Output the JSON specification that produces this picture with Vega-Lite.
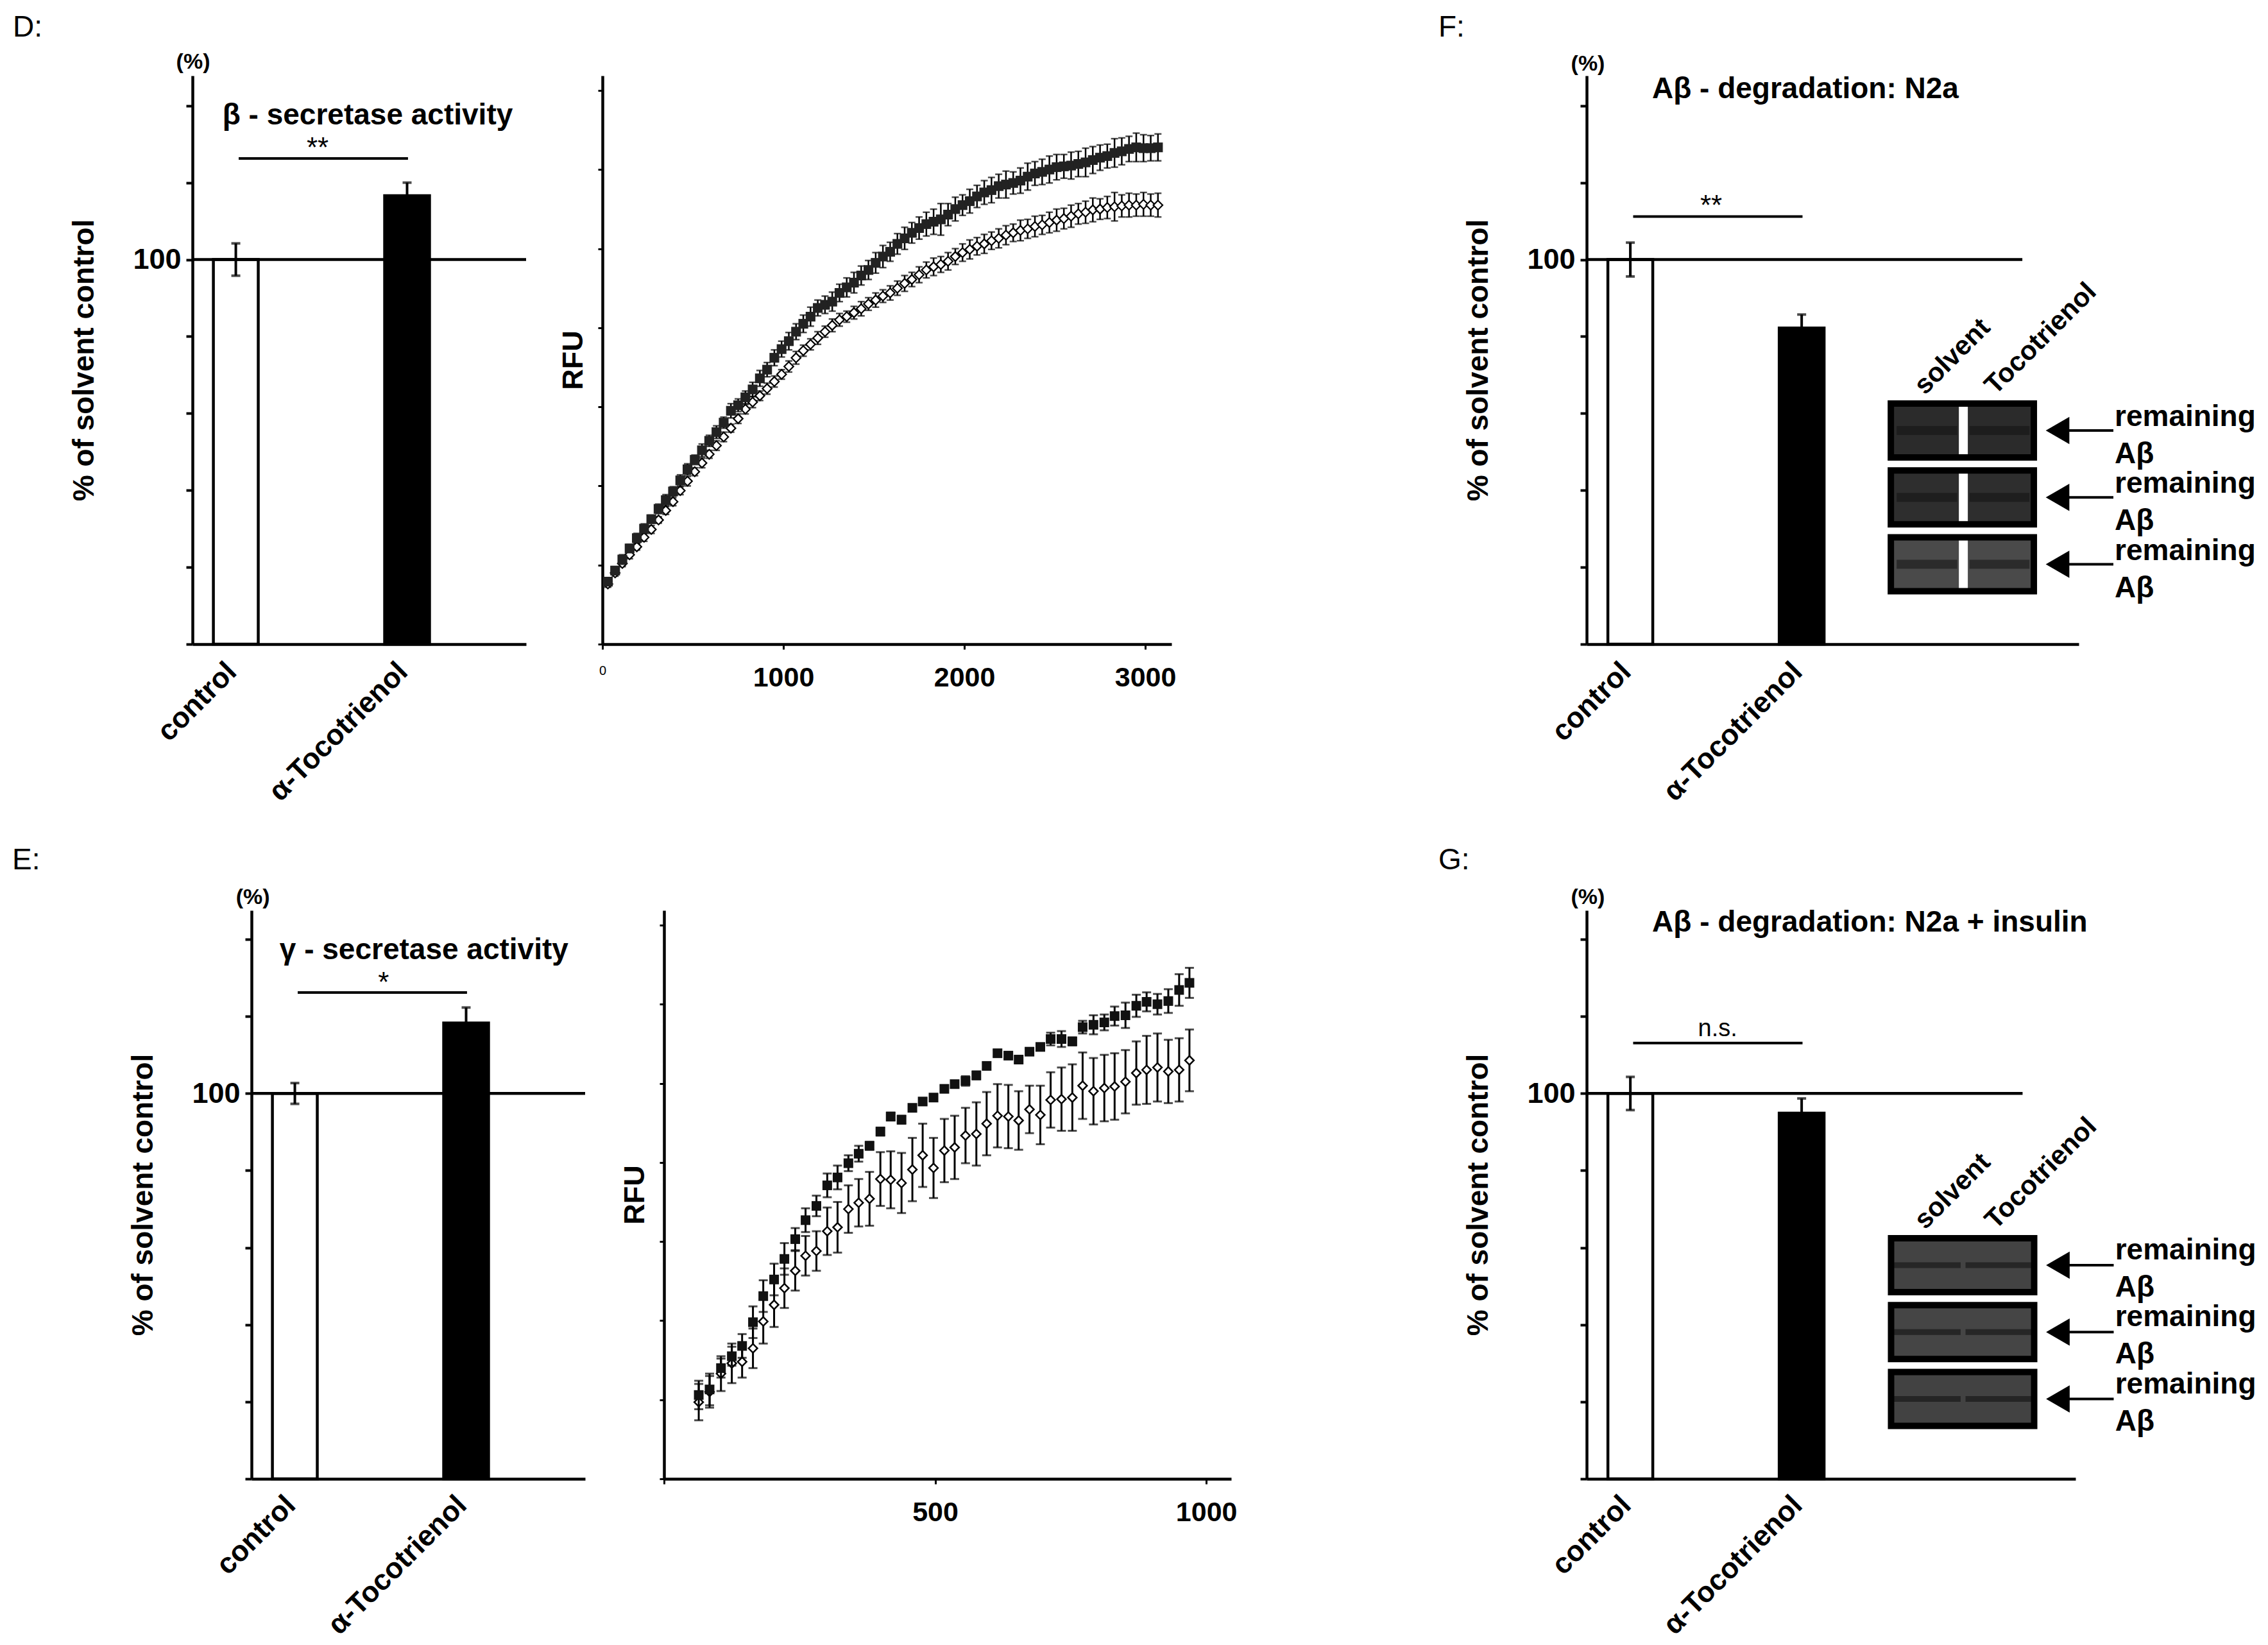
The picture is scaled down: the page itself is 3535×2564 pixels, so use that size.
{
  "$schema": "https://vega.github.io/schema/vega-lite/v6.json",
  "padding": 0,
  "background": "white",
  "config": {
    "font": "Liberation Sans",
    "view": {"stroke": null},
    "axis": {"domainColor": "black", "tickColor": "black", "labelColor": "black", "titleColor": "black", "grid": false, "labelLimit": 0, "titleLimit": 0, "labelFont": "Liberation Sans", "titleFont": "Liberation Sans"},
    "text": {"color": "black", "font": "Liberation Sans"},
    "title": {"color": "black", "font": "Liberation Sans"}
  },
  "datasets": {
    "one": [{}],
    "barsD": [{"group": "control", "value": 100, "err": 4.2}, {"group": "α-Tocotrienol", "value": 116.6, "err": 3.4}],
    "barsE": [{"group": "control", "value": 100, "err": 2.7}, {"group": "α-Tocotrienol", "value": 118.3, "err": 4.0}],
    "barsF": [{"group": "control", "value": 100, "err": 4.4}, {"group": "α-Tocotrienol", "value": 82.2, "err": 3.5}],
    "barsG": [{"group": "control", "value": 100, "err": 4.3}, {"group": "α-Tocotrienol", "value": 94.9, "err": 3.8}],
    "blot": [
      {"rep": 1, "lane": "solvent"}, {"rep": 1, "lane": "Tocotrienol"},
      {"rep": 2, "lane": "solvent"}, {"rep": 2, "lane": "Tocotrienol"},
      {"rep": 3, "lane": "solvent"}, {"rep": 3, "lane": "Tocotrienol"}
    ],
    "kinD": [
      {"t": 30, "s": "toco", "v": 0.79, "e": 0.05}, {"t": 70, "s": "toco", "v": 0.93, "e": 0.05}, {"t": 110, "s": "toco", "v": 1.07, "e": 0.06}, {"t": 150, "s": "toco", "v": 1.21, "e": 0.05},
      {"t": 190, "s": "toco", "v": 1.34, "e": 0.06}, {"t": 230, "s": "toco", "v": 1.46, "e": 0.06}, {"t": 270, "s": "toco", "v": 1.58, "e": 0.05}, {"t": 310, "s": "toco", "v": 1.71, "e": 0.06},
      {"t": 350, "s": "toco", "v": 1.82, "e": 0.07}, {"t": 390, "s": "toco", "v": 1.93, "e": 0.06}, {"t": 430, "s": "toco", "v": 2.07, "e": 0.07}, {"t": 470, "s": "toco", "v": 2.21, "e": 0.07},
      {"t": 510, "s": "toco", "v": 2.33, "e": 0.06}, {"t": 550, "s": "toco", "v": 2.45, "e": 0.08}, {"t": 590, "s": "toco", "v": 2.57, "e": 0.07}, {"t": 630, "s": "toco", "v": 2.68, "e": 0.08},
      {"t": 670, "s": "toco", "v": 2.80, "e": 0.07}, {"t": 710, "s": "toco", "v": 2.95, "e": 0.09}, {"t": 750, "s": "toco", "v": 3.02, "e": 0.08}, {"t": 790, "s": "toco", "v": 3.12, "e": 0.08},
      {"t": 830, "s": "toco", "v": 3.22, "e": 0.09}, {"t": 870, "s": "toco", "v": 3.36, "e": 0.10}, {"t": 910, "s": "toco", "v": 3.47, "e": 0.09}, {"t": 950, "s": "toco", "v": 3.62, "e": 0.10},
      {"t": 990, "s": "toco", "v": 3.73, "e": 0.10}, {"t": 1030, "s": "toco", "v": 3.83, "e": 0.11}, {"t": 1070, "s": "toco", "v": 3.95, "e": 0.10}, {"t": 1110, "s": "toco", "v": 4.05, "e": 0.11},
      {"t": 1150, "s": "toco", "v": 4.14, "e": 0.12}, {"t": 1190, "s": "toco", "v": 4.25, "e": 0.10}, {"t": 1230, "s": "toco", "v": 4.29, "e": 0.11}, {"t": 1270, "s": "toco", "v": 4.33, "e": 0.12},
      {"t": 1310, "s": "toco", "v": 4.44, "e": 0.11}, {"t": 1350, "s": "toco", "v": 4.51, "e": 0.12}, {"t": 1390, "s": "toco", "v": 4.57, "e": 0.13}, {"t": 1430, "s": "toco", "v": 4.66, "e": 0.12},
      {"t": 1470, "s": "toco", "v": 4.73, "e": 0.12}, {"t": 1510, "s": "toco", "v": 4.82, "e": 0.13}, {"t": 1550, "s": "toco", "v": 4.90, "e": 0.14}, {"t": 1590, "s": "toco", "v": 4.96, "e": 0.12},
      {"t": 1630, "s": "toco", "v": 5.06, "e": 0.13}, {"t": 1670, "s": "toco", "v": 5.13, "e": 0.14}, {"t": 1710, "s": "toco", "v": 5.20, "e": 0.13}, {"t": 1750, "s": "toco", "v": 5.26, "e": 0.14},
      {"t": 1790, "s": "toco", "v": 5.31, "e": 0.15}, {"t": 1830, "s": "toco", "v": 5.34, "e": 0.16}, {"t": 1870, "s": "toco", "v": 5.37, "e": 0.20}, {"t": 1910, "s": "toco", "v": 5.43, "e": 0.14},
      {"t": 1950, "s": "toco", "v": 5.50, "e": 0.15}, {"t": 1990, "s": "toco", "v": 5.55, "e": 0.13}, {"t": 2030, "s": "toco", "v": 5.60, "e": 0.15}, {"t": 2070, "s": "toco", "v": 5.66, "e": 0.14},
      {"t": 2110, "s": "toco", "v": 5.71, "e": 0.15}, {"t": 2150, "s": "toco", "v": 5.74, "e": 0.16}, {"t": 2190, "s": "toco", "v": 5.79, "e": 0.15}, {"t": 2230, "s": "toco", "v": 5.81, "e": 0.17},
      {"t": 2270, "s": "toco", "v": 5.83, "e": 0.14}, {"t": 2310, "s": "toco", "v": 5.86, "e": 0.16}, {"t": 2350, "s": "toco", "v": 5.91, "e": 0.17}, {"t": 2390, "s": "toco", "v": 5.95, "e": 0.15},
      {"t": 2430, "s": "toco", "v": 5.97, "e": 0.16}, {"t": 2470, "s": "toco", "v": 6.00, "e": 0.17}, {"t": 2510, "s": "toco", "v": 6.03, "e": 0.16}, {"t": 2550, "s": "toco", "v": 6.04, "e": 0.15},
      {"t": 2590, "s": "toco", "v": 6.05, "e": 0.17}, {"t": 2630, "s": "toco", "v": 6.07, "e": 0.16}, {"t": 2670, "s": "toco", "v": 6.09, "e": 0.18}, {"t": 2710, "s": "toco", "v": 6.12, "e": 0.17},
      {"t": 2750, "s": "toco", "v": 6.15, "e": 0.16}, {"t": 2790, "s": "toco", "v": 6.17, "e": 0.15}, {"t": 2830, "s": "toco", "v": 6.21, "e": 0.18}, {"t": 2870, "s": "toco", "v": 6.23, "e": 0.17},
      {"t": 2910, "s": "toco", "v": 6.26, "e": 0.16}, {"t": 2950, "s": "toco", "v": 6.28, "e": 0.18}, {"t": 2990, "s": "toco", "v": 6.27, "e": 0.17}, {"t": 3030, "s": "toco", "v": 6.27, "e": 0.16},
      {"t": 3070, "s": "toco", "v": 6.28, "e": 0.17},
      {"t": 30, "s": "control", "v": 0.76, "e": 0.04}, {"t": 70, "s": "control", "v": 0.90, "e": 0.04}, {"t": 110, "s": "control", "v": 1.02, "e": 0.04}, {"t": 150, "s": "control", "v": 1.13, "e": 0.05},
      {"t": 190, "s": "control", "v": 1.23, "e": 0.04}, {"t": 230, "s": "control", "v": 1.35, "e": 0.05}, {"t": 270, "s": "control", "v": 1.45, "e": 0.05}, {"t": 310, "s": "control", "v": 1.57, "e": 0.04},
      {"t": 350, "s": "control", "v": 1.69, "e": 0.05}, {"t": 390, "s": "control", "v": 1.80, "e": 0.05}, {"t": 430, "s": "control", "v": 1.94, "e": 0.05}, {"t": 470, "s": "control", "v": 2.06, "e": 0.06},
      {"t": 510, "s": "control", "v": 2.18, "e": 0.05}, {"t": 550, "s": "control", "v": 2.29, "e": 0.06}, {"t": 590, "s": "control", "v": 2.40, "e": 0.05}, {"t": 630, "s": "control", "v": 2.51, "e": 0.06},
      {"t": 670, "s": "control", "v": 2.62, "e": 0.06}, {"t": 710, "s": "control", "v": 2.73, "e": 0.05}, {"t": 750, "s": "control", "v": 2.85, "e": 0.06}, {"t": 790, "s": "control", "v": 2.97, "e": 0.06},
      {"t": 830, "s": "control", "v": 3.06, "e": 0.07}, {"t": 870, "s": "control", "v": 3.14, "e": 0.06}, {"t": 910, "s": "control", "v": 3.23, "e": 0.07}, {"t": 950, "s": "control", "v": 3.32, "e": 0.07},
      {"t": 990, "s": "control", "v": 3.41, "e": 0.06}, {"t": 1030, "s": "control", "v": 3.51, "e": 0.07}, {"t": 1070, "s": "control", "v": 3.62, "e": 0.08}, {"t": 1110, "s": "control", "v": 3.71, "e": 0.07},
      {"t": 1150, "s": "control", "v": 3.79, "e": 0.07}, {"t": 1190, "s": "control", "v": 3.87, "e": 0.08}, {"t": 1230, "s": "control", "v": 3.95, "e": 0.07}, {"t": 1270, "s": "control", "v": 4.03, "e": 0.08},
      {"t": 1310, "s": "control", "v": 4.10, "e": 0.08}, {"t": 1350, "s": "control", "v": 4.14, "e": 0.07}, {"t": 1390, "s": "control", "v": 4.19, "e": 0.08}, {"t": 1430, "s": "control", "v": 4.24, "e": 0.09},
      {"t": 1470, "s": "control", "v": 4.30, "e": 0.08}, {"t": 1510, "s": "control", "v": 4.35, "e": 0.09}, {"t": 1550, "s": "control", "v": 4.40, "e": 0.08}, {"t": 1590, "s": "control", "v": 4.44, "e": 0.09},
      {"t": 1630, "s": "control", "v": 4.50, "e": 0.09}, {"t": 1670, "s": "control", "v": 4.56, "e": 0.10}, {"t": 1710, "s": "control", "v": 4.61, "e": 0.09}, {"t": 1750, "s": "control", "v": 4.67, "e": 0.10},
      {"t": 1790, "s": "control", "v": 4.73, "e": 0.10}, {"t": 1830, "s": "control", "v": 4.77, "e": 0.11}, {"t": 1870, "s": "control", "v": 4.80, "e": 0.10}, {"t": 1910, "s": "control", "v": 4.84, "e": 0.11},
      {"t": 1950, "s": "control", "v": 4.90, "e": 0.10}, {"t": 1990, "s": "control", "v": 4.95, "e": 0.11}, {"t": 2030, "s": "control", "v": 4.99, "e": 0.12}, {"t": 2070, "s": "control", "v": 5.03, "e": 0.11},
      {"t": 2110, "s": "control", "v": 5.06, "e": 0.12}, {"t": 2150, "s": "control", "v": 5.10, "e": 0.11}, {"t": 2190, "s": "control", "v": 5.13, "e": 0.12}, {"t": 2230, "s": "control", "v": 5.17, "e": 0.12},
      {"t": 2270, "s": "control", "v": 5.20, "e": 0.11}, {"t": 2310, "s": "control", "v": 5.23, "e": 0.13}, {"t": 2350, "s": "control", "v": 5.25, "e": 0.12}, {"t": 2390, "s": "control", "v": 5.28, "e": 0.13},
      {"t": 2430, "s": "control", "v": 5.30, "e": 0.12}, {"t": 2470, "s": "control", "v": 5.33, "e": 0.13}, {"t": 2510, "s": "control", "v": 5.36, "e": 0.14}, {"t": 2550, "s": "control", "v": 5.38, "e": 0.13},
      {"t": 2590, "s": "control", "v": 5.41, "e": 0.14}, {"t": 2630, "s": "control", "v": 5.44, "e": 0.13}, {"t": 2670, "s": "control", "v": 5.46, "e": 0.14}, {"t": 2710, "s": "control", "v": 5.49, "e": 0.15},
      {"t": 2750, "s": "control", "v": 5.50, "e": 0.13}, {"t": 2790, "s": "control", "v": 5.52, "e": 0.14}, {"t": 2830, "s": "control", "v": 5.53, "e": 0.18}, {"t": 2870, "s": "control", "v": 5.54, "e": 0.14},
      {"t": 2910, "s": "control", "v": 5.55, "e": 0.15}, {"t": 2950, "s": "control", "v": 5.55, "e": 0.14}, {"t": 2990, "s": "control", "v": 5.56, "e": 0.15}, {"t": 3030, "s": "control", "v": 5.55, "e": 0.14},
      {"t": 3070, "s": "control", "v": 5.55, "e": 0.15}
    ],
    "kinE": [
      {"t": 64, "s": "toco", "v": 1.06, "e": 0.18}, {"t": 84, "s": "toco", "v": 1.13, "e": 0.20}, {"t": 105, "s": "toco", "v": 1.40, "e": 0.12}, {"t": 125, "s": "toco", "v": 1.55, "e": 0.12},
      {"t": 144, "s": "toco", "v": 1.68, "e": 0.15}, {"t": 164, "s": "toco", "v": 1.98, "e": 0.20}, {"t": 183, "s": "toco", "v": 2.31, "e": 0.20}, {"t": 203, "s": "toco", "v": 2.52, "e": 0.20},
      {"t": 222, "s": "toco", "v": 2.78, "e": 0.20}, {"t": 242, "s": "toco", "v": 3.03, "e": 0.14}, {"t": 261, "s": "toco", "v": 3.27, "e": 0.15}, {"t": 281, "s": "toco", "v": 3.45, "e": 0.13},
      {"t": 301, "s": "toco", "v": 3.71, "e": 0.15}, {"t": 320, "s": "toco", "v": 3.81, "e": 0.15}, {"t": 340, "s": "toco", "v": 3.99, "e": 0.10}, {"t": 359, "s": "toco", "v": 4.11, "e": 0.10},
      {"t": 379, "s": "toco", "v": 4.21, "e": 0.05}, {"t": 399, "s": "toco", "v": 4.39, "e": 0.05}, {"t": 418, "s": "toco", "v": 4.58, "e": 0.05}, {"t": 438, "s": "toco", "v": 4.54, "e": 0.05},
      {"t": 458, "s": "toco", "v": 4.69, "e": 0.04}, {"t": 477, "s": "toco", "v": 4.77, "e": 0.04}, {"t": 497, "s": "toco", "v": 4.82, "e": 0.04}, {"t": 517, "s": "toco", "v": 4.93, "e": 0.04},
      {"t": 536, "s": "toco", "v": 4.99, "e": 0.04}, {"t": 556, "s": "toco", "v": 5.03, "e": 0.06}, {"t": 576, "s": "toco", "v": 5.10, "e": 0.05}, {"t": 595, "s": "toco", "v": 5.22, "e": 0.04},
      {"t": 615, "s": "toco", "v": 5.38, "e": 0.04}, {"t": 635, "s": "toco", "v": 5.35, "e": 0.04}, {"t": 654, "s": "toco", "v": 5.30, "e": 0.04}, {"t": 674, "s": "toco", "v": 5.40, "e": 0.04},
      {"t": 694, "s": "toco", "v": 5.46, "e": 0.04}, {"t": 713, "s": "toco", "v": 5.56, "e": 0.08}, {"t": 733, "s": "toco", "v": 5.56, "e": 0.10}, {"t": 753, "s": "toco", "v": 5.53, "e": 0.05},
      {"t": 772, "s": "toco", "v": 5.71, "e": 0.08}, {"t": 792, "s": "toco", "v": 5.74, "e": 0.12}, {"t": 812, "s": "toco", "v": 5.77, "e": 0.10}, {"t": 831, "s": "toco", "v": 5.85, "e": 0.12},
      {"t": 851, "s": "toco", "v": 5.86, "e": 0.16}, {"t": 871, "s": "toco", "v": 5.98, "e": 0.14}, {"t": 890, "s": "toco", "v": 6.03, "e": 0.12}, {"t": 910, "s": "toco", "v": 6.00, "e": 0.13},
      {"t": 930, "s": "toco", "v": 6.04, "e": 0.15}, {"t": 950, "s": "toco", "v": 6.18, "e": 0.20}, {"t": 969, "s": "toco", "v": 6.27, "e": 0.19},
      {"t": 64, "s": "control", "v": 0.97, "e": 0.23}, {"t": 84, "s": "control", "v": 1.10, "e": 0.20}, {"t": 105, "s": "control", "v": 1.33, "e": 0.22}, {"t": 125, "s": "control", "v": 1.46, "e": 0.25},
      {"t": 144, "s": "control", "v": 1.48, "e": 0.20}, {"t": 164, "s": "control", "v": 1.65, "e": 0.25}, {"t": 183, "s": "control", "v": 1.99, "e": 0.28}, {"t": 203, "s": "control", "v": 2.20, "e": 0.28},
      {"t": 222, "s": "control", "v": 2.41, "e": 0.25}, {"t": 242, "s": "control", "v": 2.63, "e": 0.25}, {"t": 261, "s": "control", "v": 2.82, "e": 0.25}, {"t": 281, "s": "control", "v": 2.88, "e": 0.25},
      {"t": 301, "s": "control", "v": 3.13, "e": 0.30}, {"t": 320, "s": "control", "v": 3.18, "e": 0.32}, {"t": 340, "s": "control", "v": 3.41, "e": 0.30}, {"t": 359, "s": "control", "v": 3.49, "e": 0.30},
      {"t": 379, "s": "control", "v": 3.54, "e": 0.34}, {"t": 399, "s": "control", "v": 3.79, "e": 0.34}, {"t": 418, "s": "control", "v": 3.78, "e": 0.36}, {"t": 438, "s": "control", "v": 3.74, "e": 0.38},
      {"t": 458, "s": "control", "v": 3.91, "e": 0.40}, {"t": 477, "s": "control", "v": 4.09, "e": 0.40}, {"t": 497, "s": "control", "v": 3.93, "e": 0.38}, {"t": 517, "s": "control", "v": 4.15, "e": 0.40},
      {"t": 536, "s": "control", "v": 4.19, "e": 0.40}, {"t": 556, "s": "control", "v": 4.34, "e": 0.35}, {"t": 576, "s": "control", "v": 4.36, "e": 0.40}, {"t": 595, "s": "control", "v": 4.49, "e": 0.40},
      {"t": 615, "s": "control", "v": 4.59, "e": 0.40}, {"t": 635, "s": "control", "v": 4.58, "e": 0.40}, {"t": 654, "s": "control", "v": 4.53, "e": 0.37}, {"t": 674, "s": "control", "v": 4.67, "e": 0.30},
      {"t": 694, "s": "control", "v": 4.60, "e": 0.37}, {"t": 713, "s": "control", "v": 4.79, "e": 0.35}, {"t": 733, "s": "control", "v": 4.80, "e": 0.40}, {"t": 753, "s": "control", "v": 4.82, "e": 0.42},
      {"t": 772, "s": "control", "v": 4.97, "e": 0.42}, {"t": 792, "s": "control", "v": 4.90, "e": 0.42}, {"t": 812, "s": "control", "v": 4.94, "e": 0.42}, {"t": 831, "s": "control", "v": 4.96, "e": 0.42},
      {"t": 851, "s": "control", "v": 5.02, "e": 0.40}, {"t": 871, "s": "control", "v": 5.13, "e": 0.40}, {"t": 890, "s": "control", "v": 5.17, "e": 0.43}, {"t": 910, "s": "control", "v": 5.20, "e": 0.43},
      {"t": 930, "s": "control", "v": 5.15, "e": 0.40}, {"t": 950, "s": "control", "v": 5.17, "e": 0.40}, {"t": 969, "s": "control", "v": 5.29, "e": 0.39}
    ]
  },
  "spacing": 0,
  "vconcat": [
    {
      "spacing": 0,
      "bounds": "flush",
      "hconcat": [
        {"width": 300, "height": 886, "data": {"values": []}, "mark": "point"},
        {
          "width": 520, "height": 886,
          "layer": [
            {
              "data": {"name": "barsD"},
              "encoding": {
                "x": {"field": "group", "type": "nominal", "sort": null,
                  "scale": {"domain": ["control", "α-Tocotrienol"], "paddingInner": 0.738, "paddingOuter": 0.343, "align": 0.178},
                  "axis": {"title": null, "domainWidth": 4.5, "ticks": false, "labelAngle": -45, "labelFontSize": 45, "labelFontWeight": "bold", "labelPadding": 20, "labelOffset": -22}},
                "y": {"field": "value", "type": "quantitative", "scale": {"domain": [0, 147.8], "nice": false},
                  "axis": {"title": "% of solvent control", "titleFontSize": 46, "titleFontWeight": "bold", "titlePadding": 51, "values": [0, 20, 40, 60, 80, 100, 120, 140], "labelExpr": "datum.value == 100 ? '100' : ''", "labelFontSize": 45, "labelFontWeight": "bold", "labelPadding": 8, "tickSize": 10, "tickWidth": 4, "domainWidth": 4.5}}
              },
              "layer": [
                {"mark": {"type": "bar", "stroke": "black", "strokeWidth": 4.5},
                 "encoding": {"color": {"field": "group", "type": "nominal", "scale": {"domain": ["control", "α-Tocotrienol"], "range": ["white", "black"]}, "legend": null}}},
                {"mark": {"type": "errorbar", "ticks": true, "size": 14, "thickness": 4, "color": "black"},
                 "encoding": {"yError": {"field": "err"}}}
              ]
            },
            {
              "data": {"name": "one"},
              "layer": [
                {"mark": {"type": "rule", "color": "white", "opacity": 0, "strokeWidth": 1},
                 "encoding": {"x": {"datum": 0, "type": "quantitative", "scale": {"domain": [0, 100], "nice": false}, "axis": null}, "x2": {"datum": 1},
                   "y": {"datum": 167.32, "type": "quantitative", "scale": {"domain": [0, 147.8], "nice": false}, "axis": null}}},
                {"mark": {"type": "rule", "color": "white", "opacity": 0, "strokeWidth": 1},
                 "encoding": {"x": {"datum": 0, "type": "quantitative", "scale": {"domain": [0, 100], "nice": false}, "axis": null}, "x2": {"datum": 1},
                   "y": {"datum": -49.53, "type": "quantitative", "scale": {"domain": [0, 147.8], "nice": false}, "axis": null}}},
                {"mark": {"type": "rule", "color": "black", "strokeWidth": 4.5},
                 "encoding": {"x": {"datum": 0, "type": "quantitative", "scale": {"domain": [0, 100], "nice": false}, "axis": null}, "x2": {"datum": 100},
                   "y": {"datum": 100, "type": "quantitative", "scale": {"domain": [0, 147.8], "nice": false}, "axis": null}}},
                {"mark": {"type": "rule", "color": "black", "strokeWidth": 4},
                 "encoding": {"x": {"datum": 13.85, "type": "quantitative", "scale": {"domain": [0, 100], "nice": false}, "axis": null}, "x2": {"datum": 64.6},
                   "y": {"datum": 126.3, "type": "quantitative", "scale": {"domain": [0, 147.8], "nice": false}, "axis": null}}},
                {"mark": {"type": "text", "text": "**", "fontSize": 44, "baseline": "alphabetic"},
                 "encoding": {"x": {"datum": 37.5, "type": "quantitative", "scale": {"domain": [0, 100], "nice": false}, "axis": null},
                   "y": {"datum": 126.6, "type": "quantitative", "scale": {"domain": [0, 147.8], "nice": false}, "axis": null}}},
                {"mark": {"type": "text", "text": "β - secretase activity", "fontSize": 46, "fontWeight": "bold", "baseline": "alphabetic"},
                 "encoding": {"x": {"datum": 52.5, "type": "quantitative", "scale": {"domain": [0, 100], "nice": false}, "axis": null},
                   "y": {"datum": 135.1, "type": "quantitative", "scale": {"domain": [0, 147.8], "nice": false}, "axis": null}}},
                {"mark": {"type": "text", "text": "(%)", "fontSize": 34, "fontWeight": "bold", "baseline": "alphabetic"},
                 "encoding": {"x": {"datum": 0.2, "type": "quantitative", "scale": {"domain": [0, 100], "nice": false}, "axis": null},
                   "y": {"datum": 149.6, "type": "quantitative", "scale": {"domain": [0, 147.8], "nice": false}, "axis": null}}},
                {"mark": {"type": "text", "text": "D:", "align": "left", "fontSize": 46, "baseline": "alphabetic"},
                 "encoding": {"x": {"datum": -53.85, "type": "quantitative", "scale": {"domain": [0, 100], "nice": false}, "axis": null},
                   "y": {"datum": 158.0, "type": "quantitative", "scale": {"domain": [0, 147.8], "nice": false}, "axis": null}}}
              ]
            }
          ],
          "resolve": {"scale": {"x": "independent", "y": "independent"}}
        },
        {"width": 119, "height": 886, "data": {"values": []}, "mark": "point"},
        {
          "width": 887, "height": 886,
          "data": {"name": "kinD"},
          "encoding": {
            "x": {"field": "t", "type": "quantitative", "scale": {"domain": [0, 3145], "nice": false, "zero": false},
              "axis": {"title": null, "values": [0, 1000, 2000, 3000], "format": "d", "domainWidth": 4.5, "tickSize": 8, "tickWidth": 3, "labelPadding": 23, "labelFlush": false, "labelOverlap": false,
                "labelFontSize": {"condition": {"test": "datum.value == 0", "value": 20}, "value": 43},
                "labelFontWeight": {"condition": {"test": "datum.value == 0", "value": "normal"}, "value": "bold"}}},
            "y": {"field": "v", "type": "quantitative", "scale": {"domain": [0, 7.186], "nice": false},
              "axis": {"title": "RFU", "titleFontSize": 45, "titleFontWeight": "bold", "titlePadding": 14, "values": [0, 1, 2, 3, 4, 5, 6, 7], "labels": false, "tickSize": 7, "tickWidth": 3, "domainWidth": 4.5}}
          },
          "layer": [
            {"transform": [{"filter": "datum.s == 'control'"}],
             "mark": {"type": "errorbar", "ticks": true, "size": 11, "thickness": 2.5, "color": "black"},
             "encoding": {"yError": {"field": "e"}}},
            {"transform": [{"filter": "datum.s == 'control'"}],
             "mark": {"type": "point", "shape": "diamond", "filled": true, "fill": "white", "stroke": "black", "strokeWidth": 2.2, "size": 210, "opacity": 1}},
            {"transform": [{"filter": "datum.s == 'toco'"}],
             "mark": {"type": "errorbar", "ticks": true, "size": 11, "thickness": 2.5, "color": "black"},
             "encoding": {"yError": {"field": "e"}}},
            {"transform": [{"filter": "datum.s == 'toco'"}],
             "mark": {"type": "point", "shape": "square", "filled": true, "color": "#222222", "size": 230, "opacity": 1}},
            {"data": {"name": "one"},
             "mark": {"type": "text", "text": "α-Toco-", "align": "left", "baseline": "middle", "fontSize": 45, "fontWeight": "bold"},
             "encoding": {"x": {"datum": 3200, "type": "quantitative", "scale": {"domain": [0, 3145], "nice": false, "zero": false}},
               "y": {"datum": 6.61, "type": "quantitative", "scale": {"domain": [0, 7.186], "nice": false}}}},
            {"data": {"name": "one"},
             "mark": {"type": "text", "text": "trienol", "align": "left", "baseline": "middle", "fontSize": 45, "fontWeight": "bold"},
             "encoding": {"x": {"datum": 3200, "type": "quantitative", "scale": {"domain": [0, 3145], "nice": false, "zero": false}},
               "y": {"datum": 6.2, "type": "quantitative", "scale": {"domain": [0, 7.186], "nice": false}}}},
            {"data": {"name": "one"},
             "mark": {"type": "text", "text": "control", "align": "left", "baseline": "middle", "fontSize": 45, "fontWeight": "bold"},
             "encoding": {"x": {"datum": 3200, "type": "quantitative", "scale": {"domain": [0, 3145], "nice": false, "zero": false}},
               "y": {"datum": 5.47, "type": "quantitative", "scale": {"domain": [0, 7.186], "nice": false}}}},
            {"data": {"name": "one"},
             "mark": {"type": "text", "text": "[sec]", "align": "left", "baseline": "middle", "fontSize": 45, "fontWeight": "bold"},
             "encoding": {"x": {"datum": 3277, "type": "quantitative", "scale": {"domain": [0, 3145], "nice": false, "zero": false}},
               "y": {"datum": -0.065, "type": "quantitative", "scale": {"domain": [0, 7.186], "nice": false}}}}
          ]
        },
        {"width": 647, "height": 886, "data": {"values": []}, "mark": "point"},
        {
          "width": 767, "height": 886,
          "layer": [
            {
              "data": {"name": "barsF"},
              "encoding": {
                "x": {"field": "group", "type": "nominal", "sort": null,
                  "scale": {"domain": ["control", "α-Tocotrienol"], "paddingInner": 0.738, "paddingOuter": 0.805, "align": 0.077},
                  "axis": {"title": null, "domainWidth": 4.5, "ticks": false, "labelAngle": -45, "labelFontSize": 45, "labelFontWeight": "bold", "labelPadding": 20, "labelOffset": -22}},
                "y": {"field": "value", "type": "quantitative", "scale": {"domain": [0, 147.8], "nice": false},
                  "axis": {"title": "% of solvent control", "titleFontSize": 46, "titleFontWeight": "bold", "titlePadding": 51, "values": [0, 20, 40, 60, 80, 100, 120, 140], "labelExpr": "datum.value == 100 ? '100' : ''", "labelFontSize": 45, "labelFontWeight": "bold", "labelPadding": 8, "tickSize": 10, "tickWidth": 4, "domainWidth": 4.5}}
              },
              "layer": [
                {"mark": {"type": "bar", "stroke": "black", "strokeWidth": 4.5},
                 "encoding": {"color": {"field": "group", "type": "nominal", "scale": {"domain": ["control", "α-Tocotrienol"], "range": ["white", "black"]}, "legend": null}}},
                {"mark": {"type": "errorbar", "ticks": true, "size": 14, "thickness": 4, "color": "black"},
                 "encoding": {"yError": {"field": "err"}}}
              ]
            },
            {
              "data": {"name": "one"},
              "layer": [
                {"mark": {"type": "rule", "color": "black", "strokeWidth": 4.5},
                 "encoding": {"x": {"datum": 0, "type": "quantitative", "scale": {"domain": [0, 100], "nice": false}, "axis": null}, "x2": {"datum": 88.54},
                   "y": {"datum": 100, "type": "quantitative", "scale": {"domain": [0, 147.8], "nice": false}, "axis": null}}},
                {"mark": {"type": "rule", "color": "black", "strokeWidth": 4},
                 "encoding": {"x": {"datum": 9.45, "type": "quantitative", "scale": {"domain": [0, 100], "nice": false}, "axis": null}, "x2": {"datum": 43.87},
                   "y": {"datum": 111.2, "type": "quantitative", "scale": {"domain": [0, 147.8], "nice": false}, "axis": null}}},
                {"mark": {"type": "text", "text": "**", "fontSize": 44, "baseline": "alphabetic"},
                 "encoding": {"x": {"datum": 25.3, "type": "quantitative", "scale": {"domain": [0, 100], "nice": false}, "axis": null},
                   "y": {"datum": 111.6, "type": "quantitative", "scale": {"domain": [0, 147.8], "nice": false}, "axis": null}}},
                {"mark": {"type": "text", "text": "Aβ - degradation: N2a", "align": "left", "fontSize": 46, "fontWeight": "bold", "baseline": "alphabetic"},
                 "encoding": {"x": {"datum": 13.3, "type": "quantitative", "scale": {"domain": [0, 100], "nice": false}, "axis": null},
                   "y": {"datum": 142.0, "type": "quantitative", "scale": {"domain": [0, 147.8], "nice": false}, "axis": null}}},
                {"mark": {"type": "text", "text": "(%)", "fontSize": 34, "fontWeight": "bold", "baseline": "alphabetic"},
                 "encoding": {"x": {"datum": 0.26, "type": "quantitative", "scale": {"domain": [0, 100], "nice": false}, "axis": null},
                   "y": {"datum": 149.1, "type": "quantitative", "scale": {"domain": [0, 147.8], "nice": false}, "axis": null}}},
                {"mark": {"type": "text", "text": "F:", "align": "left", "fontSize": 46, "baseline": "alphabetic"},
                 "encoding": {"x": {"datum": -30.12, "type": "quantitative", "scale": {"domain": [0, 100], "nice": false}, "axis": null},
                   "y": {"datum": 158.0, "type": "quantitative", "scale": {"domain": [0, 147.8], "nice": false}, "axis": null}}}
              ]
            },
            {
              "data": {"name": "blot"},
              "encoding": {"y": {"field": "rep", "type": "quantitative", "scale": {"domain": [-4.305, 4.194], "reverse": true, "nice": false, "zero": false}, "axis": null}},
              "layer": [
                {"transform": [{"filter": "datum.lane == 'solvent'"}], "mark": {"type": "rect", "height": 84},
                 "encoding": {"x": {"datum": 61.82, "type": "quantitative", "scale": {"domain": [0, 100], "nice": false}, "axis": null}, "x2": {"datum": 75.64},
                   "color": {"field": "rep", "type": "ordinal", "scale": {"domain": [1, 2, 3], "range": ["#2b2b2b", "#2e2e2e", "#4a4a4a"]}, "legend": null}}},
                {"transform": [{"filter": "datum.lane == 'Tocotrienol'"}], "mark": {"type": "rect", "height": 84},
                 "encoding": {"x": {"datum": 77.46, "type": "quantitative", "scale": {"domain": [0, 100], "nice": false}, "axis": null}, "x2": {"datum": 90.88},
                   "color": {"field": "rep", "type": "ordinal", "scale": {"domain": [1, 2, 3], "range": ["#2b2b2b", "#2e2e2e", "#4a4a4a"]}, "legend": null}}},
                {"transform": [{"filter": "datum.lane == 'solvent'"}], "mark": {"type": "rule", "color": "#121212", "strokeWidth": 14, "opacity": 0.55},
                 "encoding": {"x": {"datum": 63.0, "type": "quantitative", "scale": {"domain": [0, 100], "nice": false}, "axis": null}, "x2": {"datum": 75.3}}},
                {"transform": [{"filter": "datum.lane == 'Tocotrienol'"}], "mark": {"type": "rule", "color": "#121212", "strokeWidth": 14, "opacity": 0.55},
                 "encoding": {"x": {"datum": 77.8, "type": "quantitative", "scale": {"domain": [0, 100], "nice": false}, "axis": null}, "x2": {"datum": 90.0}}},
                {"transform": [{"filter": "datum.lane == 'solvent'"}], "mark": {"type": "rect", "height": 84, "fillOpacity": 0, "stroke": "black", "strokeWidth": 10},
                 "encoding": {"x": {"datum": 61.82, "type": "quantitative", "scale": {"domain": [0, 100], "nice": false}, "axis": null}, "x2": {"datum": 90.88}}},
                {"transform": [{"filter": "datum.lane == 'solvent'"}], "mark": {"type": "rule", "color": "black", "strokeWidth": 4},
                 "encoding": {"x": {"datum": 96.09, "type": "quantitative", "scale": {"domain": [0, 100], "nice": false}, "axis": null}, "x2": {"datum": 107.04}}},
                {"transform": [{"filter": "datum.lane == 'solvent'"}], "mark": {"type": "point", "shape": "triangle-left", "filled": true, "color": "black", "size": 1800, "opacity": 1},
                 "encoding": {"x": {"datum": 95.7, "type": "quantitative", "scale": {"domain": [0, 100], "nice": false}, "axis": null}}},
                {"transform": [{"filter": "datum.lane == 'solvent'"}], "mark": {"type": "text", "text": "remaining", "align": "left", "baseline": "middle", "dy": -21, "fontSize": 46, "fontWeight": "bold"},
                 "encoding": {"x": {"datum": 107.3, "type": "quantitative", "scale": {"domain": [0, 100], "nice": false}, "axis": null}}},
                {"transform": [{"filter": "datum.lane == 'solvent'"}], "mark": {"type": "text", "text": "Aβ", "align": "left", "baseline": "middle", "dy": 37, "fontSize": 46, "fontWeight": "bold"},
                 "encoding": {"x": {"datum": 107.3, "type": "quantitative", "scale": {"domain": [0, 100], "nice": false}, "axis": null}}},
                {"transform": [{"filter": "datum.rep == 1 && datum.lane == 'solvent'"}], "mark": {"type": "text", "angle": 315, "align": "left", "baseline": "alphabetic", "fontSize": 42, "fontWeight": "bold"},
                 "encoding": {"text": {"field": "lane"}, "x": {"datum": 68.73, "type": "quantitative", "scale": {"domain": [0, 100], "nice": false}, "axis": null},
                   "y": {"datum": 0.48, "type": "quantitative", "scale": {"domain": [-4.305, 4.194], "reverse": true, "nice": false, "zero": false}, "axis": null}}},
                {"transform": [{"filter": "datum.rep == 1 && datum.lane == 'Tocotrienol'"}], "mark": {"type": "text", "angle": 315, "align": "left", "baseline": "alphabetic", "fontSize": 42, "fontWeight": "bold"},
                 "encoding": {"text": {"field": "lane"}, "x": {"datum": 83.06, "type": "quantitative", "scale": {"domain": [0, 100], "nice": false}, "axis": null},
                   "y": {"datum": 0.48, "type": "quantitative", "scale": {"domain": [-4.305, 4.194], "reverse": true, "nice": false, "zero": false}, "axis": null}}}
              ]
            }
          ],
          "resolve": {"scale": {"x": "independent", "y": "independent", "color": "independent"}}
        }
      ]
    },
    {
      "spacing": 0,
      "bounds": "flush",
      "hconcat": [
        {"width": 392, "height": 886, "data": {"values": []}, "mark": "point"},
        {
          "width": 520, "height": 886,
          "layer": [
            {
              "data": {"name": "barsE"},
              "encoding": {
                "x": {"field": "group", "type": "nominal", "sort": null,
                  "scale": {"domain": ["control", "α-Tocotrienol"], "paddingInner": 0.738, "paddingOuter": 0.343, "align": 0.178},
                  "axis": {"title": null, "domainWidth": 4.5, "ticks": false, "labelAngle": -45, "labelFontSize": 45, "labelFontWeight": "bold", "labelPadding": 18, "labelOffset": -22}},
                "y": {"field": "value", "type": "quantitative", "scale": {"domain": [0, 147.5], "nice": false},
                  "axis": {"title": "% of solvent control", "titleFontSize": 46, "titleFontWeight": "bold", "titlePadding": 51, "values": [0, 20, 40, 60, 80, 100, 120, 140], "labelExpr": "datum.value == 100 ? '100' : ''", "labelFontSize": 45, "labelFontWeight": "bold", "labelPadding": 8, "tickSize": 10, "tickWidth": 4, "domainWidth": 4.5}}
              },
              "layer": [
                {"mark": {"type": "bar", "stroke": "black", "strokeWidth": 4.5},
                 "encoding": {"color": {"field": "group", "type": "nominal", "scale": {"domain": ["control", "α-Tocotrienol"], "range": ["white", "black"]}, "legend": null}}},
                {"mark": {"type": "errorbar", "ticks": true, "size": 14, "thickness": 4, "color": "black"},
                 "encoding": {"yError": {"field": "err"}}}
              ]
            },
            {
              "data": {"name": "one"},
              "layer": [
                {"mark": {"type": "rule", "color": "white", "opacity": 0, "strokeWidth": 1},
                 "encoding": {"x": {"datum": 0, "type": "quantitative", "scale": {"domain": [0, 100], "nice": false}, "axis": null}, "x2": {"datum": 1},
                   "y": {"datum": 167.0, "type": "quantitative", "scale": {"domain": [0, 147.5], "nice": false}, "axis": null}}},
                {"mark": {"type": "rule", "color": "black", "strokeWidth": 4.5},
                 "encoding": {"x": {"datum": 0, "type": "quantitative", "scale": {"domain": [0, 100], "nice": false}, "axis": null}, "x2": {"datum": 100},
                   "y": {"datum": 100, "type": "quantitative", "scale": {"domain": [0, 147.5], "nice": false}, "axis": null}}},
                {"mark": {"type": "rule", "color": "black", "strokeWidth": 4},
                 "encoding": {"x": {"datum": 13.85, "type": "quantitative", "scale": {"domain": [0, 100], "nice": false}, "axis": null}, "x2": {"datum": 64.6},
                   "y": {"datum": 126.2, "type": "quantitative", "scale": {"domain": [0, 147.5], "nice": false}, "axis": null}}},
                {"mark": {"type": "text", "text": "*", "fontSize": 44, "baseline": "alphabetic"},
                 "encoding": {"x": {"datum": 39.6, "type": "quantitative", "scale": {"domain": [0, 100], "nice": false}, "axis": null},
                   "y": {"datum": 126.4, "type": "quantitative", "scale": {"domain": [0, 147.5], "nice": false}, "axis": null}}},
                {"mark": {"type": "text", "text": "γ - secretase activity", "fontSize": 46, "fontWeight": "bold", "baseline": "alphabetic"},
                 "encoding": {"x": {"datum": 51.7, "type": "quantitative", "scale": {"domain": [0, 100], "nice": false}, "axis": null},
                   "y": {"datum": 134.8, "type": "quantitative", "scale": {"domain": [0, 147.5], "nice": false}, "axis": null}}},
                {"mark": {"type": "text", "text": "(%)", "fontSize": 34, "fontWeight": "bold", "baseline": "alphabetic"},
                 "encoding": {"x": {"datum": 0.4, "type": "quantitative", "scale": {"domain": [0, 100], "nice": false}, "axis": null},
                   "y": {"datum": 149.2, "type": "quantitative", "scale": {"domain": [0, 147.5], "nice": false}, "axis": null}}},
                {"mark": {"type": "text", "text": "E:", "align": "left", "fontSize": 46, "baseline": "alphabetic"},
                 "encoding": {"x": {"datum": -71.73, "type": "quantitative", "scale": {"domain": [0, 100], "nice": false}, "axis": null},
                   "y": {"datum": 158.2, "type": "quantitative", "scale": {"domain": [0, 147.5], "nice": false}, "axis": null}}}
              ]
            }
          ],
          "resolve": {"scale": {"x": "independent", "y": "independent"}}
        },
        {"width": 123, "height": 886, "data": {"values": []}, "mark": "point"},
        {
          "width": 884, "height": 886,
          "data": {"name": "kinE"},
          "encoding": {
            "x": {"field": "t", "type": "quantitative", "scale": {"domain": [0, 1046], "nice": false, "zero": false},
              "axis": {"title": null, "values": [0, 500, 1000], "format": "d", "labelExpr": "datum.value == 0 ? '' : datum.label", "domainWidth": 4.5, "tickSize": 8, "tickWidth": 3, "labelPadding": 23, "labelFlush": false, "labelOverlap": false, "labelFontSize": 43, "labelFontWeight": "bold"}},
            "y": {"field": "v", "type": "quantitative", "scale": {"domain": [0, 7.186], "nice": false},
              "axis": {"title": "RFU", "titleFontSize": 45, "titleFontWeight": "bold", "titlePadding": 14, "values": [0, 1, 2, 3, 4, 5, 6, 7], "labels": false, "tickSize": 7, "tickWidth": 3, "domainWidth": 4.5}}
          },
          "layer": [
            {"transform": [{"filter": "datum.s == 'control'"}],
             "mark": {"type": "errorbar", "ticks": true, "size": 14, "thickness": 3, "color": "black"},
             "encoding": {"yError": {"field": "e"}}},
            {"transform": [{"filter": "datum.s == 'control'"}],
             "mark": {"type": "point", "shape": "diamond", "filled": true, "fill": "white", "stroke": "black", "strokeWidth": 2.5, "size": 190, "opacity": 1}},
            {"transform": [{"filter": "datum.s == 'toco'"}],
             "mark": {"type": "errorbar", "ticks": true, "size": 14, "thickness": 3, "color": "black"},
             "encoding": {"yError": {"field": "e"}}},
            {"transform": [{"filter": "datum.s == 'toco'"}],
             "mark": {"type": "point", "shape": "square", "filled": true, "color": "#111111", "size": 225, "opacity": 1}},
            {"data": {"name": "one"},
             "mark": {"type": "text", "text": "α-Toco-", "align": "left", "baseline": "middle", "fontSize": 45, "fontWeight": "bold"},
             "encoding": {"x": {"datum": 1026, "type": "quantitative", "scale": {"domain": [0, 1046], "nice": false, "zero": false}},
               "y": {"datum": 6.42, "type": "quantitative", "scale": {"domain": [0, 7.186], "nice": false}}}},
            {"data": {"name": "one"},
             "mark": {"type": "text", "text": "trienol", "align": "left", "baseline": "middle", "fontSize": 45, "fontWeight": "bold"},
             "encoding": {"x": {"datum": 1026, "type": "quantitative", "scale": {"domain": [0, 1046], "nice": false, "zero": false}},
               "y": {"datum": 6.01, "type": "quantitative", "scale": {"domain": [0, 7.186], "nice": false}}}},
            {"data": {"name": "one"},
             "mark": {"type": "text", "text": "control", "align": "left", "baseline": "middle", "fontSize": 45, "fontWeight": "bold"},
             "encoding": {"x": {"datum": 1026, "type": "quantitative", "scale": {"domain": [0, 1046], "nice": false, "zero": false}},
               "y": {"datum": 5.26, "type": "quantitative", "scale": {"domain": [0, 7.186], "nice": false}}}},
            {"data": {"name": "one"},
             "mark": {"type": "text", "text": "[sec]", "align": "left", "baseline": "middle", "fontSize": 45, "fontWeight": "bold"},
             "encoding": {"x": {"datum": 1088.5, "type": "quantitative", "scale": {"domain": [0, 1046], "nice": false, "zero": false}},
               "y": {"datum": -0.04, "type": "quantitative", "scale": {"domain": [0, 7.186], "nice": false}}}}
          ]
        },
        {"width": 554, "height": 886, "data": {"values": []}, "mark": "point"},
        {
          "width": 762, "height": 886,
          "layer": [
            {
              "data": {"name": "barsG"},
              "encoding": {
                "x": {"field": "group", "type": "nominal", "sort": null,
                  "scale": {"domain": ["control", "α-Tocotrienol"], "paddingInner": 0.738, "paddingOuter": 0.796, "align": 0.078},
                  "axis": {"title": null, "domainWidth": 4.5, "ticks": false, "labelAngle": -45, "labelFontSize": 45, "labelFontWeight": "bold", "labelPadding": 18, "labelOffset": -22}},
                "y": {"field": "value", "type": "quantitative", "scale": {"domain": [0, 147.5], "nice": false},
                  "axis": {"title": "% of solvent control", "titleFontSize": 46, "titleFontWeight": "bold", "titlePadding": 51, "values": [0, 20, 40, 60, 80, 100, 120, 140], "labelExpr": "datum.value == 100 ? '100' : ''", "labelFontSize": 45, "labelFontWeight": "bold", "labelPadding": 8, "tickSize": 10, "tickWidth": 4, "domainWidth": 4.5}}
              },
              "layer": [
                {"mark": {"type": "bar", "stroke": "black", "strokeWidth": 4.5},
                 "encoding": {"color": {"field": "group", "type": "nominal", "scale": {"domain": ["control", "α-Tocotrienol"], "range": ["white", "black"]}, "legend": null}}},
                {"mark": {"type": "errorbar", "ticks": true, "size": 14, "thickness": 4, "color": "black"},
                 "encoding": {"yError": {"field": "err"}}}
              ]
            },
            {
              "data": {"name": "one"},
              "layer": [
                {"mark": {"type": "rule", "color": "black", "strokeWidth": 4.5},
                 "encoding": {"x": {"datum": 0, "type": "quantitative", "scale": {"domain": [0, 100], "nice": false}, "axis": null}, "x2": {"datum": 89.17},
                   "y": {"datum": 100, "type": "quantitative", "scale": {"domain": [0, 147.5], "nice": false}, "axis": null}}},
                {"mark": {"type": "rule", "color": "black", "strokeWidth": 4},
                 "encoding": {"x": {"datum": 9.51, "type": "quantitative", "scale": {"domain": [0, 100], "nice": false}, "axis": null}, "x2": {"datum": 44.16},
                   "y": {"datum": 113.1, "type": "quantitative", "scale": {"domain": [0, 147.5], "nice": false}, "axis": null}}},
                {"mark": {"type": "text", "text": "n.s.", "fontSize": 38, "baseline": "alphabetic"},
                 "encoding": {"x": {"datum": 26.8, "type": "quantitative", "scale": {"domain": [0, 100], "nice": false}, "axis": null},
                   "y": {"datum": 114.9, "type": "quantitative", "scale": {"domain": [0, 147.5], "nice": false}, "axis": null}}},
                {"mark": {"type": "text", "text": "Aβ - degradation: N2a + insulin", "align": "left", "fontSize": 46, "fontWeight": "bold", "baseline": "alphabetic"},
                 "encoding": {"x": {"datum": 13.4, "type": "quantitative", "scale": {"domain": [0, 100], "nice": false}, "axis": null},
                   "y": {"datum": 142.0, "type": "quantitative", "scale": {"domain": [0, 147.5], "nice": false}, "axis": null}}},
                {"mark": {"type": "text", "text": "(%)", "fontSize": 34, "fontWeight": "bold", "baseline": "alphabetic"},
                 "encoding": {"x": {"datum": 0.26, "type": "quantitative", "scale": {"domain": [0, 100], "nice": false}, "axis": null},
                   "y": {"datum": 149.2, "type": "quantitative", "scale": {"domain": [0, 147.5], "nice": false}, "axis": null}}},
                {"mark": {"type": "text", "text": "G:", "align": "left", "fontSize": 46, "baseline": "alphabetic"},
                 "encoding": {"x": {"datum": -30.31, "type": "quantitative", "scale": {"domain": [0, 100], "nice": false}, "axis": null},
                   "y": {"datum": 158.2, "type": "quantitative", "scale": {"domain": [0, 147.5], "nice": false}, "axis": null}}}
              ]
            },
            {
              "data": {"name": "blot"},
              "encoding": {"y": {"field": "rep", "type": "quantitative", "scale": {"domain": [-4.305, 4.194], "reverse": true, "nice": false, "zero": false}, "axis": null}},
              "layer": [
                {"transform": [{"filter": "datum.lane == 'solvent'"}], "mark": {"type": "rect", "height": 84},
                 "encoding": {"x": {"datum": 62.27, "type": "quantitative", "scale": {"domain": [0, 100], "nice": false}, "axis": null}, "x2": {"datum": 91.54},
                   "color": {"field": "rep", "type": "ordinal", "scale": {"domain": [1, 2, 3], "range": ["#434343", "#454545", "#424242"]}, "legend": null}}},
                {"transform": [{"filter": "datum.lane == 'solvent'"}], "mark": {"type": "rule", "color": "#1a1a1a", "strokeWidth": 9, "opacity": 0.7},
                 "encoding": {"x": {"datum": 62.8, "type": "quantitative", "scale": {"domain": [0, 100], "nice": false}, "axis": null}, "x2": {"datum": 76.5}}},
                {"transform": [{"filter": "datum.lane == 'Tocotrienol'"}], "mark": {"type": "rule", "color": "#1a1a1a", "strokeWidth": 9, "opacity": 0.7},
                 "encoding": {"x": {"datum": 77.5, "type": "quantitative", "scale": {"domain": [0, 100], "nice": false}, "axis": null}, "x2": {"datum": 91.0}}},
                {"transform": [{"filter": "datum.lane == 'solvent'"}], "mark": {"type": "rect", "height": 84, "fillOpacity": 0, "stroke": "black", "strokeWidth": 10},
                 "encoding": {"x": {"datum": 62.27, "type": "quantitative", "scale": {"domain": [0, 100], "nice": false}, "axis": null}, "x2": {"datum": 91.54}}},
                {"transform": [{"filter": "datum.lane == 'solvent'"}], "mark": {"type": "rule", "color": "black", "strokeWidth": 4},
                 "encoding": {"x": {"datum": 96.78, "type": "quantitative", "scale": {"domain": [0, 100], "nice": false}, "axis": null}, "x2": {"datum": 107.81}}},
                {"transform": [{"filter": "datum.lane == 'solvent'"}], "mark": {"type": "point", "shape": "triangle-left", "filled": true, "color": "black", "size": 1800, "opacity": 1},
                 "encoding": {"x": {"datum": 96.39, "type": "quantitative", "scale": {"domain": [0, 100], "nice": false}, "axis": null}}},
                {"transform": [{"filter": "datum.lane == 'solvent'"}], "mark": {"type": "text", "text": "remaining", "align": "left", "baseline": "middle", "dy": -23, "fontSize": 46, "fontWeight": "bold"},
                 "encoding": {"x": {"datum": 108.1, "type": "quantitative", "scale": {"domain": [0, 100], "nice": false}, "axis": null}}},
                {"transform": [{"filter": "datum.lane == 'solvent'"}], "mark": {"type": "text", "text": "Aβ", "align": "left", "baseline": "middle", "dy": 35, "fontSize": 46, "fontWeight": "bold"},
                 "encoding": {"x": {"datum": 108.1, "type": "quantitative", "scale": {"domain": [0, 100], "nice": false}, "axis": null}}},
                {"transform": [{"filter": "datum.rep == 1 && datum.lane == 'solvent'"}], "mark": {"type": "text", "angle": 315, "align": "left", "baseline": "alphabetic", "fontSize": 42, "fontWeight": "bold"},
                 "encoding": {"text": {"field": "lane"}, "x": {"datum": 69.23, "type": "quantitative", "scale": {"domain": [0, 100], "nice": false}, "axis": null},
                   "y": {"datum": 0.48, "type": "quantitative", "scale": {"domain": [-4.305, 4.194], "reverse": true, "nice": false, "zero": false}, "axis": null}}},
                {"transform": [{"filter": "datum.rep == 1 && datum.lane == 'Tocotrienol'"}], "mark": {"type": "text", "angle": 315, "align": "left", "baseline": "alphabetic", "fontSize": 42, "fontWeight": "bold"},
                 "encoding": {"text": {"field": "lane"}, "x": {"datum": 83.66, "type": "quantitative", "scale": {"domain": [0, 100], "nice": false}, "axis": null},
                   "y": {"datum": 0.48, "type": "quantitative", "scale": {"domain": [-4.305, 4.194], "reverse": true, "nice": false, "zero": false}, "axis": null}}}
              ]
            }
          ],
          "resolve": {"scale": {"x": "independent", "y": "independent", "color": "independent"}}
        }
      ]
    }
  ]
}
